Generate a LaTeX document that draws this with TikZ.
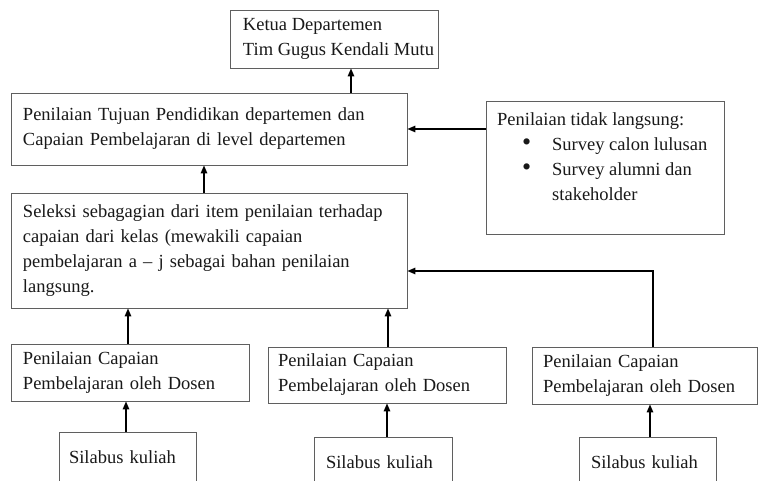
\documentclass[tikz,border=0pt]{standalone}
\usepackage{fontspec}
\setmainfont{Liberation Serif}
\usetikzlibrary{arrows.meta}
\definecolor{boxgray}{RGB}{95,95,95}
\definecolor{txt}{RGB}{25,25,25}
\begin{document}
\begin{tikzpicture}[x=1pt,y=-1pt,
  font=\fontsize{18.5}{25}\selectfont,
  box/.style={draw=boxgray, line width=0.9pt, inner sep=0pt, align=left, text=txt},
  arr/.style={-{Triangle[length=8pt,width=6.5pt]}, line width=1.4pt, black}]
\useasboundingbox (0,0) rectangle (758,481);
\clip (0,0) rectangle (758,481);
\fill[white] (0,0) rectangle (758,481);

\node[box, minimum width=208pt, minimum height=58pt] (ketua) at (334,39)
  {\hspace*{9pt}Ketua Departemen\\\hspace*{9pt}Tim Gugus Kendali Mutu};
\node[box, minimum width=396pt, minimum height=72pt, text width=372pt] (tujuan) at (209,129)
  {Penilaian Tujuan Pendidikan departemen dan\\Capaian Pembelajaran di level departemen};
\node[box, minimum width=396pt, minimum height=115pt, text width=372pt] (seleksi) at (209,250.5)
  {Seleksi sebagagian dari item penilaian terhadap\\capaian dari kelas (mewakili capaian\\pembelajaran a -- j sebagai bahan penilaian\\langsung.};
\node[box, minimum width=238pt, minimum height=133pt] (ind) at (605,167.5) {};
\node[anchor=north west, inner sep=0pt, align=left, text=txt] (indtxt) at (497,112)
  {Penilaian tidak langsung:\\
   \makebox[55pt][l]{\hspace*{25pt}{\fontsize{26}{25}\selectfont •}}Survey calon lulusan\\
   \makebox[55pt][l]{\hspace*{25pt}{\fontsize{26}{25}\selectfont •}}Survey alumni dan\\
   \hspace*{55pt}stakeholder};

\node[box, minimum width=238pt, minimum height=57pt, text width=214pt] (dosA) at (130,372.5)
  {Penilaian Capaian\\Pembelajaran oleh Dosen};
\node[box, minimum width=238pt, minimum height=56pt, text width=218pt] (dosB) at (387,375)
  {Penilaian Capaian\\Pembelajaran oleh Dosen};
\node[box, minimum width=225pt, minimum height=57pt, text width=203pt] (dosC) at (644.5,375.5)
  {Penilaian Capaian\\Pembelajaran oleh Dosen};

\node[box, minimum width=137pt, minimum height=50pt, text width=117pt] (silA) at (127.5,457) {Silabus kuliah};
\node[box, minimum width=138pt, minimum height=50pt, text width=114pt] (silB) at (383,462) {Silabus kuliah};
\node[box, minimum width=137pt, minimum height=50pt, text width=113pt] (silC) at (647.5,462) {Silabus kuliah};

\coordinate (a1) at ([xshift=142pt]tujuan.north);
\draw[arr] (a1) -- (a1 |- ketua.south);
\coordinate (a2) at ([xshift=-5pt]seleksi.north);
\draw[arr] (a2) -- (a2 |- tujuan.south);
\coordinate (a3) at ([yshift=38.5pt]ind.west);
\draw[arr] (a3) -- (a3 -| tujuan.east);
\coordinate (a4) at ([xshift=8.5pt]dosC.north);
\coordinate (c4) at ([yshift=-20.5pt]seleksi.east);
\draw[arr] (a4) |- (c4);
\coordinate (a5) at ([xshift=-2pt]dosA.north);
\draw[arr] (a5) -- (a5 |- seleksi.south);
\coordinate (a6) at ([xshift=1pt]dosB.north);
\draw[arr] (a6) -- (a6 |- seleksi.south);
\coordinate (a7) at ([xshift=-1.5pt]silA.north);
\draw[arr] (a7) -- (a7 |- dosA.south);
\coordinate (a8) at ([xshift=4pt]silB.north);
\draw[arr] (a8) -- (a8 |- dosB.south);
\coordinate (a9) at ([xshift=2.5pt]silC.north);
\draw[arr] (a9) -- (a9 |- dosC.south);
\end{tikzpicture}
\end{document}
